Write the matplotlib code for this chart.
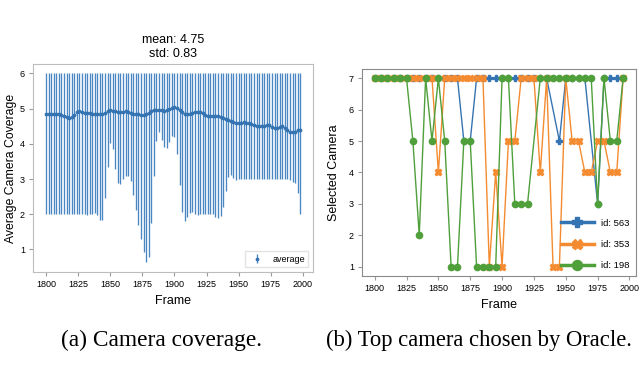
import numpy as np
import matplotlib.pyplot as plt

plt.rcParams['font.family'] = ['Liberation Sans', 'DejaVu Sans']

# (a) camera coverage: every 2nd frame from 1800 to 1998
frames = np.arange(1800, 2000, 2)
cov_mean = [4.84, 4.85, 4.86, 4.86, 4.86, 4.85, 4.83, 4.80, 4.77, 4.74,
            4.75, 4.82, 4.90, 4.92, 4.90, 4.88, 4.88, 4.87, 4.86, 4.86,
            4.85, 4.85, 4.86, 4.88, 4.94, 4.96, 4.94, 4.92, 4.91, 4.90,
            4.91, 4.92, 4.90, 4.88, 4.86, 4.85, 4.84, 4.83, 4.82, 4.84,
            4.87, 4.92, 4.96, 4.97, 4.96, 4.95, 4.94, 4.95, 4.98, 5.02,
            5.04, 5.02, 4.96, 4.90, 4.86, 4.85, 4.86, 4.88, 4.90, 4.91,
            4.90, 4.87, 4.83, 4.80, 4.78, 4.79, 4.80, 4.79, 4.76, 4.73,
            4.70, 4.68, 4.66, 4.63, 4.60, 4.59, 4.60, 4.61, 4.60, 4.58,
            4.56, 4.54, 4.52, 4.50, 4.50, 4.52, 4.55, 4.53, 4.48, 4.44,
            4.45, 4.49, 4.50, 4.45, 4.38, 4.35, 4.33, 4.35, 4.38, 4.40]
cov_min = [2.00, 2.00, 2.00, 2.00, 2.00, 2.00, 2.00, 2.00, 2.00, 2.00,
           2.00, 2.00, 2.00, 2.00, 2.00, 2.00, 1.99, 2.00, 2.02, 2.05,
           1.98, 1.83, 1.84, 2.45, 3.35, 4.02, 3.86, 3.30, 2.90, 2.86,
           3.00, 3.10, 3.10, 2.95, 2.55, 2.12, 1.70, 1.30, 0.92, 0.63,
           0.80, 1.74, 3.08, 4.08, 4.33, 4.12, 3.92, 3.88, 4.05, 4.22,
           4.20, 3.72, 2.82, 2.06, 1.81, 1.92, 2.05, 2.06, 2.02, 1.99,
           2.00, 2.00, 2.00, 2.01, 2.00, 2.02, 1.92, 1.90, 1.95, 2.20,
           2.65, 3.05, 3.12, 3.02, 2.98, 2.99, 3.00, 3.00, 3.00, 3.00,
           3.00, 3.00, 3.00, 3.00, 3.00, 3.00, 3.00, 3.00, 3.00, 3.00,
           3.00, 3.00, 3.00, 3.00, 3.00, 2.97, 2.92, 2.90, 2.60, 2.00]
cov_max = [6.0] * 100

# (b) selected camera per object id
f563 = [1800, 1805, 1810, 1815, 1820, 1825, 1830, 1835, 1840, 1845,
        1850, 1855, 1860, 1865, 1870, 1875, 1880, 1885, 1890, 1895,
        1900, 1905, 1910, 1915, 1920, 1925, 1930, 1935, 1945, 1950,
        1955, 1960, 1965, 1975, 1980, 1985, 1990, 1995]
cam563 = [7, 7, 7, 7, 7, 7, 7, 7, 7, 7,
          7, 7, 7, 7, 5, 5, 7, 7, 7, 7,
          7, 7, 7, 7, 7, 7, 7, 7, 5, 7,
          7, 7, 7, 3, 7, 7, 7, 7]
f353 = list(range(1800, 2000, 5))
cam353 = [7, 7, 7, 7, 7, 7, 7, 7, 7, 7,
          4, 7, 7, 7, 7, 7, 7, 7, 1, 4,
          1, 5, 5, 7, 7, 7, 4, 7, 1, 1,
          7, 5, 5, 4, 4, 5, 5, 4, 4, 7]
f198 = [1800, 1805, 1810, 1815, 1820, 1825, 1830, 1835, 1840, 1845,
        1850, 1855, 1860, 1865, 1870, 1875, 1880, 1885, 1890, 1895,
        1900, 1905, 1910, 1915, 1920, 1930, 1935, 1940, 1945, 1950,
        1955, 1960, 1965, 1970, 1975, 1980, 1985, 1990, 1995]
cam198 = [7, 7, 7, 7, 7, 7, 5, 2, 7, 5,
          7, 5, 1, 1, 5, 5, 1, 1, 1, 1,
          7, 7, 3, 3, 3, 7, 7, 7, 7, 7,
          7, 7, 7, 7, 3, 7, 5, 5, 7]

blue = '#3574b2'
bar_blue = '#4a86c2'
orange = '#f48b30'
green = '#4f9f3a'

fig = plt.figure(figsize=(6.4, 3.7), dpi=100)

# left panel
ax1 = fig.add_axes([0.052, 0.265, 0.437, 0.562])
mean = np.array(cov_mean)
err = [mean - np.array(cov_min), np.array(cov_max) - mean]
ax1.errorbar(frames, mean, yerr=err, fmt='.', color=blue, ecolor=bar_blue,
             elinewidth=0.95, ms=3.5, label='average')
ax1.set_title('mean: 4.75\nstd: 0.83', fontsize=9, pad=5)
ax1.set_xlabel('Frame', fontsize=9)
ax1.set_ylabel('Average Camera Coverage', fontsize=8.8, labelpad=2)
ax1.set_xticks(range(1800, 2001, 25))
ax1.set_yticks(range(1, 7))
ax1.legend(loc='lower right', fontsize=6.5, handlelength=1.8,
           edgecolor='#dddddd', fancybox=False, borderpad=0.4)
for s in ax1.spines.values():
    s.set_color('#bdbdbd')

# right panel
ax2 = fig.add_axes([0.566, 0.254, 0.427, 0.56])
ax2.plot(f563, cam563, marker='P', color=blue, lw=1, ms=4.5, label='id: 563')
ax2.plot(f353, cam353, marker='X', color=orange, lw=1, ms=4.5, label='id: 353')
ax2.plot(f198, cam198, marker='o', color=green, lw=1, ms=4.5, label='id: 198')
ax2.set_xlabel('Frame', fontsize=9)
ax2.set_ylabel('Selected Camera', fontsize=9, labelpad=6)
ax2.set_xticks(range(1800, 2001, 25))
ax2.set_yticks(range(1, 8))
leg = ax2.legend(loc='lower right', fontsize=6.8, handlelength=3.5,
                 markerscale=1.6, labelspacing=1.3, frameon=False,
                 borderaxespad=0.2)
for h in leg.legend_handles:
    h.set_linewidth(2.5)
for s in ax2.spines.values():
    s.set_color('#8a8a8a')

for ax in (ax1, ax2):
    ax.tick_params(labelsize=6.5, length=3, width=0.8, color='#9a9a9a', pad=3)

fig.text(0.253, 0.08, '(a) Camera coverage.', ha='center', va='center',
         fontsize=16.8, family='Liberation Serif')
fig.text(0.748, 0.08, '(b) Top camera chosen by Oracle.', ha='center',
         va='center', fontsize=16.3, family='Liberation Serif')

fig.savefig('out.png', dpi=100)
